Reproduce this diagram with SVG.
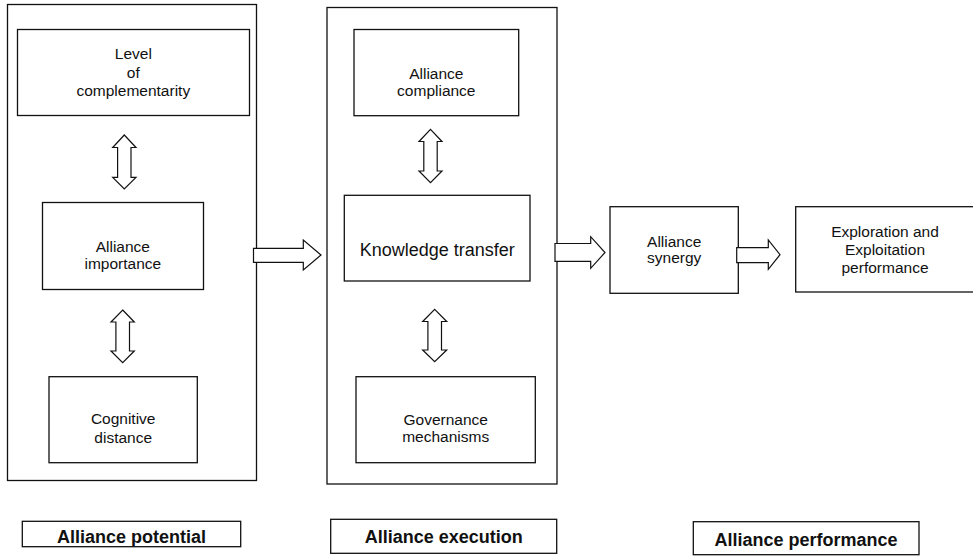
<svg xmlns="http://www.w3.org/2000/svg" width="973" height="557" viewBox="0 0 973 557">
<style>
.box{fill:#fff;stroke:#111;stroke-width:1.3}
.arr{fill:#fff;stroke:#111;stroke-width:1.2;stroke-linejoin:miter}
text{font-family:"Liberation Sans",Arial,sans-serif;fill:#111;text-anchor:middle}
.t{font-size:15.5px}
.k{font-size:18px}
.b{font-size:18px;font-weight:bold}
</style>
<rect width="973" height="557" fill="#fff"/>
<g id="potential-container"><rect class="box" x="7.5" y="4.5" width="249" height="476"/></g>
<g id="execution-container"><rect class="box" x="327" y="7.5" width="230" height="476.5"/></g>
<g id="complementarity"><rect class="box" x="17.5" y="29.5" width="232" height="86"/>
<text class="t" x="133.3" y="59.3">Level</text><text class="t" x="133.3" y="78">of</text><text class="t" x="133.3" y="95.5">complementarity</text></g>
<g id="importance"><rect class="box" x="42.5" y="202.5" width="161" height="87"/>
<text class="t" x="122.8" y="252.3">Alliance</text><text class="t" x="122.8" y="269">importance</text></g>
<g id="cognitive"><rect class="box" x="49" y="376.7" width="148.3" height="86"/>
<text class="t" x="123.2" y="424.3">Cognitive</text><text class="t" x="123.2" y="442.7">distance</text></g>
<g id="compliance"><rect class="box" x="354" y="29.5" width="164.7" height="86.2"/>
<text class="t" x="436.3" y="79">Alliance</text><text class="t" x="436.3" y="95.7">compliance</text></g>
<g id="knowledge"><rect class="box" x="344.3" y="195.3" width="185.7" height="85.7"/>
<text class="k" x="437.2" y="256">Knowledge transfer</text></g>
<g id="governance"><rect class="box" x="356" y="376.7" width="179.3" height="86"/>
<text class="t" x="445.7" y="425">Governance</text><text class="t" x="445.7" y="442.3">mechanisms</text></g>
<g id="synergy"><rect class="box" x="610" y="206.7" width="128.3" height="86.6"/>
<text class="t" x="674.2" y="246.7">Alliance</text><text class="t" x="674.2" y="263.3">synergy</text></g>
<g id="exploration"><rect class="box" x="795.7" y="206.7" width="180" height="85.3"/>
<text class="t" x="885" y="236.7">Exploration and</text><text class="t" x="885" y="255">Exploitation</text><text class="t" x="885" y="273.3">performance</text></g>
<g id="label-potential"><rect class="box" x="22.3" y="521.3" width="218.4" height="25.4"/>
<text class="b" x="131.5" y="543">Alliance potential</text></g>
<g id="label-execution"><rect class="box" x="330.7" y="519.3" width="226" height="34"/>
<text class="b" x="443.7" y="543.3">Alliance execution</text></g>
<g id="label-performance"><rect class="box" x="693.3" y="521.7" width="225.7" height="33"/>
<text class="b" x="806" y="545.5">Alliance performance</text></g>
<g id="connectors">
<path class="arr" d="M124.3 135 L136 147.5 L131 147.5 L131 177.3 L136 177.3 L124.3 189 L112.7 177.3 L117.6 177.3 L117.6 147.5 L112.7 147.5 Z"/>
<path class="arr" d="M122.7 310 L134.3 322 L129.5 322 L129.5 351 L134.3 351 L122.7 362.7 L111 351 L115.9 351 L115.9 322 L111 322 Z"/>
<path class="arr" d="M430.5 129.3 L442 141.5 L437.2 141.5 L437.2 171 L442 171 L430.5 182.7 L419 171 L423.8 171 L423.8 141.5 L419 141.5 Z"/>
<path class="arr" d="M434.7 309.3 L446.7 321.5 L441.5 321.5 L441.5 350 L446.7 350 L434.7 361.7 L422.7 350 L427.9 350 L427.9 321.5 L422.7 321.5 Z"/>
<path class="arr" d="M253.5 248.3 L303.3 248.3 L303.3 240 L321 255 L303.3 270 L303.3 262.3 L253.5 262.3 Z"/>
<path class="arr" d="M555 243.5 L590.7 243.5 L590.7 236.7 L605 252.5 L590.7 268.3 L590.7 261.3 L555 261.3 Z"/>
<path class="arr" d="M736.7 247.7 L768.3 247.7 L768.3 240 L780 254.7 L768.3 269.3 L768.3 262.7 L736.7 262.7 Z"/>
</g>
</svg>
